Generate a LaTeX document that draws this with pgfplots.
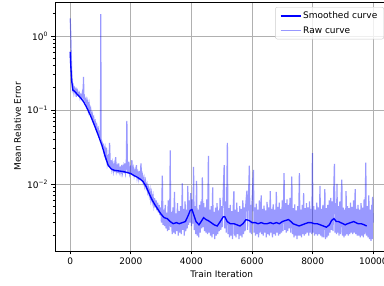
\documentclass[border=0pt]{standalone}
\usepackage{pgfplots}
\pgfplotsset{compat=1.18}
\usepackage{pgfplotstable}
\usepackage{fontspec}
\setmainfont{DejaVu Sans}
\definecolor{gridgray}{RGB}{176,176,176}
\definecolor{legframe}{RGB}{204,204,204}
\definecolor{mplblue}{RGB}{0,0,255}

\pgfplotstableread{
x y
0 0.61
20 0.40
50 0.25
90 0.186
150 0.178
250 0.16
350 0.145
450 0.128
550 0.107
650 0.088
750 0.070
850 0.055
950 0.043
1050 0.033
1150 0.024
1250 0.018
1350 0.0160
1450 0.0153
1600 0.0150
1750 0.0147
1900 0.0142
2000 0.0138
2100 0.0130
2200 0.0124
2300 0.0117
2400 0.0108
2500 0.0093
2600 0.0075
2700 0.0061
2800 0.0052
2900 0.0045
3000 0.0039
3100 0.0035
3200 0.0034
3300 0.0031
3400 0.0029
3500 0.0030
3600 0.0029
3700 0.0030
3800 0.0031
3900 0.0038
3960 0.0044
4020 0.0045
4080 0.0038
4150 0.0031
4250 0.0028
4320 0.0031
4400 0.0035
4480 0.0033
4550 0.0032
4650 0.0030
4750 0.0028
4850 0.0027
4950 0.0031
5050 0.0036
5100 0.0036
5180 0.0031
5280 0.0029
5400 0.0029
5500 0.0028
5600 0.0027
5700 0.0029
5800 0.0033
5900 0.0032
6000 0.0030
6100 0.0030
6200 0.0029
6300 0.0030
6400 0.0029
6500 0.0029
6600 0.0030
6700 0.0029
6800 0.0030
6900 0.0029
7000 0.0031
7100 0.0032
7200 0.0033
7280 0.0031
7350 0.0029
7450 0.0028
7550 0.0027
7650 0.0028
7750 0.0029
7850 0.0030
7950 0.0030
8050 0.0029
8150 0.0029
8250 0.0028
8350 0.0027
8450 0.0026
8550 0.0028
8620 0.0032
8700 0.0034
8780 0.0031
8850 0.0031
8920 0.0030
9000 0.0029
9070 0.0028
9150 0.0029
9250 0.0030
9350 0.0031
9420 0.0030
9500 0.0029
9600 0.0029
9700 0.0028
9780 0.0027
}\smoothed

\pgfplotstableread{
x y
0 1.73
10 1.40
20 1.05
30 0.72
40 0.48
50 0.33
60 0.25
75 0.19
100 0.21
125 0.17
150 0.20
175 0.19
200 0.15
225 0.19
250 0.18
275 0.16
300 0.17
325 0.145
350 0.16
375 0.15
400 0.17
425 0.14
440 0.28
455 0.14
475 0.15
500 0.13
525 0.14
550 0.115
575 0.13
600 0.10
625 0.12
650 0.095
675 0.105
700 0.085
725 0.09
750 0.075
775 0.08
800 0.065
825 0.07
850 0.058
875 0.063
900 0.052
925 0.056
950 0.046
975 0.050
1000 0.041
1010 1.98
1020 0.040
1050 0.037
1075 0.033
1100 0.034
1125 0.026
1150 0.030
1175 0.021
1200 0.031
1225 0.019
1250 0.022
1275 0.017
1300 0.036
1325 0.017
1350 0.021
1375 0.016
1400 0.019
1425 0.015
1450 0.018
1475 0.0145
1500 0.023
1525 0.015
1550 0.017
1575 0.014
1600 0.019
1625 0.0145
1650 0.016
1675 0.014
1700 0.018
1725 0.0143
1750 0.017
1775 0.0140
1800 0.019
1825 0.0142
1850 0.017
1870 0.071
1890 0.016
1910 0.0138
1935 0.020
1960 0.014
1985 0.016
2010 0.0135
2035 0.021
2060 0.0132
2085 0.016
2110 0.0130
2135 0.015
2160 0.0125
2185 0.018
2210 0.0122
2235 0.014
2260 0.0118
2285 0.015
2310 0.0114
2335 0.019
2360 0.0110
2385 0.013
2410 0.0105
2435 0.012
2460 0.0095
2485 0.011
2510 0.0088
2535 0.0098
2560 0.0078
2585 0.0088
2610 0.0070
2635 0.0082
2660 0.0062
2685 0.0075
2710 0.0058
2735 0.0068
2760 0.0052
2785 0.0064
2810 0.0048
2835 0.0060
2860 0.0044
2885 0.0056
2910 0.0041
2935 0.0052
2960 0.0038
2985 0.0048
3010 0.0030
3040 0.0129
3060 0.0028
3085 0.0045
3110 0.0027
3135 0.0052
3160 0.0025
3185 0.0041
3210 0.0023
3235 0.0060
3260 0.0024
3285 0.0044
3300 0.0285
3315 0.0026
3340 0.0042
3365 0.0021
3390 0.0048
3415 0.0022
3440 0.0078
3465 0.0021
3490 0.0040
3515 0.0023
3540 0.0055
3565 0.0020
3590 0.0043
3615 0.0022
3640 0.0050
3665 0.0021
3700 0.0102
3715 0.0024
3740 0.0046
3765 0.0020
3790 0.0058
3815 0.0023
3840 0.0045
3865 0.0025
3880 0.0094
3900 0.0028
3925 0.0060
3950 0.0030
3975 0.0075
4000 0.0027
4025 0.0062
4050 0.0029
4070 0.0170
4090 0.0024
4115 0.0050
4140 0.0021
4170 0.0110
4190 0.0020
4215 0.0045
4240 0.0019
4265 0.0052
4290 0.0022
4315 0.0058
4340 0.0025
4360 0.0123
4380 0.0026
4405 0.0055
4430 0.0023
4455 0.0048
4480 0.0022
4505 0.0062
4530 0.0021
4560 0.0240
4580 0.0022
4605 0.0045
4630 0.0020
4655 0.0050
4680 0.0019
4700 0.0090
4720 0.0021
4745 0.0042
4770 0.0018
4795 0.0048
4820 0.0020
4845 0.0055
4870 0.0021
4895 0.0044
4920 0.0023
4945 0.0065
4970 0.0024
4995 0.0050
5020 0.0026
5045 0.0068
5080 0.0180
5100 0.0025
5125 0.0058
5150 0.0022
5185 0.0360
5205 0.0021
5230 0.0047
5255 0.0019
5280 0.0052
5305 0.0020
5330 0.0043
5355 0.0018
5380 0.0049
5400 0.0080
5420 0.0020
5445 0.0045
5470 0.0019
5495 0.0056
5520 0.0021
5545 0.0042
5570 0.0018
5595 0.0050
5620 0.0020
5645 0.0046
5670 0.0019
5695 0.0060
5720 0.0021
5745 0.0048
5770 0.0023
5795 0.0055
5830 0.0081
5850 0.0024
5875 0.0050
5910 0.0177
5930 0.0022
5955 0.0052
5980 0.0021
6000 0.0058
6045 0.0155
6065 0.0022
6090 0.0048
6115 0.0020
6140 0.0054
6165 0.0021
6190 0.0045
6215 0.0019
6240 0.0060
6265 0.0022
6300 0.0070
6320 0.0021
6345 0.0046
6370 0.0020
6395 0.0051
6420 0.0022
6445 0.0044
6470 0.0019
6495 0.0057
6520 0.0021
6545 0.0048
6570 0.0020
6600 0.0080
6620 0.0022
6645 0.0046
6670 0.0019
6695 0.0053
6720 0.0021
6745 0.0045
6770 0.0020
6800 0.0078
6820 0.0022
6845 0.0049
6870 0.0020
6895 0.0056
6920 0.0021
6945 0.0046
6970 0.0022
6995 0.0060
7020 0.0023
7055 0.0140
7075 0.0024
7100 0.0055
7125 0.0022
7150 0.0062
7175 0.0023
7200 0.0052
7225 0.0025
7250 0.0065
7275 0.0022
7310 0.0126
7330 0.0021
7355 0.0047
7380 0.0019
7405 0.0053
7430 0.0020
7455 0.0044
7480 0.0018
7505 0.0050
7530 0.0020
7560 0.0140
7580 0.0020
7605 0.0045
7630 0.0019
7655 0.0052
7680 0.0021
7700 0.0075
7720 0.0020
7745 0.0047
7770 0.0021
7795 0.0055
7820 0.0022
7845 0.0048
7870 0.0020
7895 0.0058
7920 0.0022
7945 0.0046
7970 0.0021
7990 0.0260
8010 0.0022
8035 0.0050
8060 0.0020
8085 0.0045
8110 0.0021
8135 0.0056
8160 0.0020
8185 0.0048
8210 0.0021
8240 0.0094
8260 0.0020
8285 0.0046
8310 0.0019
8335 0.0052
8360 0.0019
8385 0.0043
8400 0.0085
8420 0.0018
8445 0.0047
8470 0.0019
8495 0.0052
8520 0.0020
8545 0.0060
8570 0.0022
8595 0.0065
8620 0.0024
8645 0.0058
8670 0.0023
8690 0.0072
8715 0.0186
8735 0.0022
8760 0.0055
8785 0.0021
8800 0.0100
8820 0.0022
8845 0.0050
8870 0.0020
8895 0.0058
8920 0.0021
8940 0.0070
8960 0.0114
8980 0.0020
9005 0.0048
9030 0.0019
9055 0.0045
9080 0.0020
9100 0.0080
9120 0.0021
9145 0.0050
9170 0.0020
9195 0.0047
9220 0.0021
9245 0.0056
9270 0.0022
9295 0.0049
9320 0.0021
9345 0.0060
9370 0.0022
9400 0.0085
9420 0.0021
9445 0.0046
9470 0.0020
9495 0.0052
9520 0.0020
9545 0.0045
9570 0.0019
9595 0.0055
9620 0.0020
9645 0.0048
9670 0.0019
9695 0.0062
9720 0.0021
9750 0.0194
9770 0.0020
9795 0.0050
9820 0.0019
9850 0.0070
9870 0.0018
9895 0.0045
9920 0.0017
9945 0.0052
9960 0.0018
9975 0.0067
9990 0.0030
}\raw

\begin{document}
\begin{tikzpicture}
\begin{axis}[
  name=ax,
  scale only axis,
  width=333.5pt, height=249pt,
  ymode=log,
  xmin=-500, xmax=10499,
  ymin=0.00124, ymax=2.88,
  xtick={0,2000,4000,6000,8000,10000},
  xticklabels={0,2000,4000,6000,8000,10000},
  scaled x ticks=false,
  ytick={0.01,0.1,1},
  yticklabels={10\textsuperscript{−2},10\textsuperscript{−1},10\textsuperscript{0}},
  minor ytick={0.002,0.003,0.004,0.005,0.006,0.007,0.008,0.009,0.02,0.03,0.04,0.05,0.06,0.07,0.08,0.09,0.2,0.3,0.4,0.5,0.6,0.7,0.8,0.9,2},
  tick pos=left,
  tick align=outside,
  major tick length=3.5pt,
  minor tick length=2pt,
  major tick style={black, line width=0.8pt},
  minor tick style={black, line width=0.6pt},
  axis line style={line width=0.8pt},
  grid=major,
  major grid style={gridgray, line width=0.8pt},
  tick label style={font=\fontsize{9}{11}\selectfont},
  label style={font=\fontsize{9}{11}\selectfont},
  xlabel={Train Iteration},
  ylabel={Mean Relative Error},
  xlabel style={at={(axis description cs:0.5,-0.0924)}, anchor=center},
  ylabel style={at={(axis description cs:-0.1124,0.5)}, anchor=center},
  legend style={at={(axis description cs:1,1)}, anchor=north east,
    xshift=-4.5pt, yshift=-5pt, draw=legframe, rounded corners=2pt,
    fill=white, fill opacity=0.8, text opacity=1,
    font=\fontsize{9}{11}\selectfont, row sep=2.5pt, inner xsep=4.5pt, inner ysep=2.5pt},
  legend cell align=left,
  legend image code/.code={\draw[#1] (0pt,0pt) -- (20pt,0pt);},
]
\addplot[draw=mplblue, line width=1.35pt] table[x=x,y=y] {\smoothed};
\addlegendentry{Smoothed curve}
\addplot[draw=mplblue, draw opacity=0.4, line width=1.2pt] table[x=x,y=y] {\raw};
\addlegendentry{Raw curve}
\end{axis}
\pgfresetboundingbox
\useasboundingbox ([xshift=-55pt,yshift=-35pt]ax.south west) rectangle ([xshift=-4.5pt,yshift=2pt]ax.north east);
\end{tikzpicture}
\end{document}
